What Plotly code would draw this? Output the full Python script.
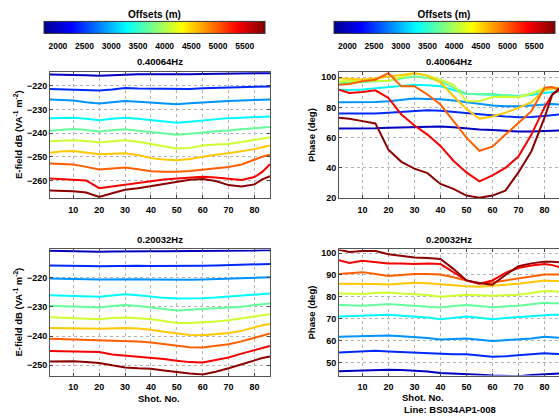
import plotly.graph_objects as go

# ---------------- data ----------------
shots = [1, 5, 10, 15, 20, 25, 30, 35, 40, 45, 50, 55, 60, 65, 70, 75, 80, 83, 86]
offsets = [2000, 2425, 2850, 3275, 3700, 4125, 4550, 4975, 5400, 5825]

# E-field amplitude, 0.40064 Hz (dB)
amp_hi = [
    [-215.3,-215.3,-215.4,-215.6,-215.8,-215.5,-215.3,-215.2,-215.2,-215.3,-215.4,-215.2,-215.1,-215.0,-215.0,-214.9,-214.8,-214.8,-214.7],
    [-221.4,-221.5,-221.6,-221.9,-222.0,-221.6,-221.0,-221.2,-221.3,-221.4,-221.6,-221.4,-221.1,-221.0,-220.9,-220.7,-220.5,-220.4,-220.3],
    [-225.8,-226.0,-226.3,-227.0,-227.5,-227.0,-226.5,-226.8,-227.2,-227.6,-227.8,-227.4,-227.0,-226.7,-226.5,-226.3,-226.0,-225.9,-225.8],
    [-233.7,-233.6,-233.5,-234.0,-234.6,-234.0,-233.5,-234.0,-234.6,-235.0,-235.6,-235.2,-234.6,-234.0,-233.7,-233.5,-233.3,-233.1,-233.0],
    [-239.0,-238.6,-238.3,-238.7,-239.3,-238.8,-238.4,-239.0,-239.5,-240.0,-240.7,-240.3,-239.6,-239.2,-238.9,-238.5,-238.0,-237.7,-237.4],
    [-243.5,-243.2,-243.0,-243.4,-244.0,-243.5,-243.0,-243.7,-244.6,-245.5,-246.5,-246.3,-245.3,-244.8,-244.6,-243.8,-242.8,-242.2,-241.8],
    [-248.3,-247.8,-247.6,-248.2,-249.0,-248.7,-248.5,-249.3,-250.6,-251.2,-251.5,-251.0,-250.0,-249.2,-248.5,-247.8,-246.8,-246.0,-245.3],
    [-252.9,-253.0,-253.3,-254.3,-255.4,-255.0,-254.6,-255.3,-256.1,-256.3,-256.4,-256.0,-255.4,-254.8,-254.3,-253.3,-251.3,-250.0,-249.2],
    [-259.2,-259.4,-259.6,-260.0,-263.3,-262.5,-261.7,-261.0,-260.1,-259.6,-259.2,-258.8,-258.5,-258.8,-259.4,-259.8,-258.6,-256.4,-253.2],
    [-264.3,-264.4,-264.6,-265.1,-267.0,-265.4,-264.0,-263.3,-262.4,-261.3,-260.3,-259.7,-259.4,-260.3,-262.0,-262.6,-261.7,-259.6,-258.2],
]

# Phase, 0.40064 Hz (deg)
phase_hi = [
    [66.1,66.0,66.0,66.2,66.5,66.8,67.0,67.2,67.3,66.8,66.0,65.3,65.0,64.5,64.0,64.0,64.3,64.6,64.8],
    [76.0,76.0,75.8,76.0,76.4,77.0,77.5,78.1,77.8,77.0,76.0,75.2,74.6,74.0,73.5,73.6,74.3,74.8,75.3],
    [83.4,83.3,83.2,83.5,84.0,85.0,85.8,85.6,85.4,84.5,83.4,82.0,81.3,80.8,80.8,81.3,82.0,82.3,81.9],
    [91.7,91.5,91.8,92.5,93.2,94.2,95.0,94.6,93.9,91.5,89.0,88.6,88.4,88.0,87.5,88.2,89.5,90.0,90.6],
    [96.0,96.3,96.8,97.2,97.6,99.0,100.4,99.5,97.2,93.0,88.9,88.7,88.9,88.0,87.3,88.8,91.7,92.3,92.8],
    [97.2,97.5,97.8,97.8,97.5,100.0,102.6,101.0,98.3,95.0,84.0,84.0,86.9,87.0,86.7,89.0,92.8,93.0,92.8],
    [99.3,98.8,98.5,99.3,100.4,101.5,102.6,101.0,96.5,87.5,79.0,72.5,74.0,76.5,79.7,83.5,91.5,92.5,92.8],
    [95.0,95.4,97.2,98.3,102.6,93.9,94.0,88.5,81.9,70.9,60.0,51.3,54.0,62.0,69.5,77.5,93.0,93.4,91.7],
    [91.7,89.5,90.2,91.3,86.2,75.3,68.0,62.0,54.5,44.7,37.0,31.1,35.0,40.0,47.5,62.0,80.0,88.5,91.7],
    [73.1,72.5,70.9,69.4,52.0,44.0,39.5,36.5,29.4,26.1,21.7,20.2,21.7,25.0,37.0,51.0,73.0,88.4,92.8],
]

# E-field amplitude, 0.20032 Hz (dB)
amp_lo = [
    [-210.8,-210.9,-211.0,-211.1,-211.1,-211.0,-210.9,-210.9,-210.9,-210.9,-210.9,-210.9,-210.9,-210.8,-210.8,-210.7,-210.7,-210.6,-210.6],
    [-215.8,-215.8,-215.9,-216.0,-216.1,-216.0,-215.9,-215.9,-216.0,-216.0,-216.1,-216.0,-215.9,-215.8,-215.7,-215.6,-215.5,-215.4,-215.3],
    [-220.3,-220.3,-220.4,-220.5,-220.6,-220.5,-220.4,-220.5,-220.6,-220.7,-220.7,-220.7,-220.6,-220.5,-220.4,-220.2,-220.0,-219.9,-219.8],
    [-226.0,-226.1,-226.2,-226.4,-226.5,-226.1,-225.7,-226.0,-226.5,-226.9,-227.1,-227.1,-227.0,-226.8,-226.5,-226.2,-225.8,-225.6,-225.4],
    [-229.6,-229.7,-229.7,-229.9,-230.2,-229.7,-229.3,-229.7,-230.2,-230.7,-231.2,-231.0,-230.7,-230.5,-230.3,-229.9,-229.3,-229.0,-228.8],
    [-233.5,-233.6,-233.7,-233.9,-234.2,-233.8,-233.6,-233.9,-234.2,-234.8,-235.5,-235.5,-235.3,-235.0,-234.6,-234.0,-233.2,-232.8,-232.5],
    [-237.2,-237.2,-237.3,-237.4,-237.5,-237.3,-237.2,-237.4,-237.8,-238.5,-239.1,-239.6,-239.7,-239.3,-238.9,-238.2,-236.9,-236.3,-235.8],
    [-240.9,-241.0,-241.1,-241.2,-241.3,-241.5,-241.7,-241.8,-242.2,-242.8,-243.4,-243.8,-243.9,-243.4,-242.8,-241.8,-240.6,-239.8,-239.1],
    [-245.1,-245.2,-245.2,-245.3,-245.4,-246.3,-246.7,-246.9,-247.3,-247.8,-248.4,-248.9,-249.0,-248.2,-247.3,-246.0,-244.7,-244.0,-243.4],
    [-248.7,-248.6,-248.6,-248.9,-249.2,-250.0,-250.7,-251.0,-251.2,-251.8,-252.4,-252.8,-253.1,-252.2,-251.0,-249.7,-248.2,-247.5,-247.0],
]

# Phase, 0.20032 Hz (deg)
phase_lo = [
    [46.0,46.2,46.4,46.6,46.7,46.5,46.3,45.8,45.2,45.0,44.8,44.4,44.0,43.8,43.7,44.2,44.7,44.9,45.0],
    [54.5,54.7,54.9,55.3,55.0,54.7,54.6,54.3,53.8,53.8,53.8,53.2,52.6,52.8,53.2,53.7,54.2,54.0,53.8],
    [61.7,61.9,62.0,62.2,62.3,62.0,61.7,61.2,60.5,60.8,61.0,60.4,59.8,60.2,60.5,61.0,61.7,61.5,61.3],
    [71.0,71.2,71.4,71.6,71.8,71.3,71.0,70.5,69.8,70.5,71.0,70.4,69.8,70.3,70.8,71.3,71.8,71.8,71.8],
    [76.3,76.1,75.9,76.3,76.7,76.3,75.9,75.5,75.1,75.8,76.3,75.8,75.2,75.6,75.9,76.6,77.3,77.1,77.0],
    [81.5,81.4,81.3,81.7,82.0,81.5,81.3,80.8,80.0,80.6,81.0,80.7,80.5,80.7,81.0,81.8,82.7,82.5,82.3],
    [86.0,86.0,86.1,85.9,85.7,86.0,86.4,86.2,85.7,85.2,84.8,84.6,85.2,85.5,86.0,86.8,87.5,87.3,87.2],
    [90.5,90.9,91.3,90.4,89.5,90.0,90.5,90.5,90.2,89.0,87.5,86.0,86.6,87.5,88.3,89.3,90.2,90.2,90.2],
    [96.8,95.5,96.5,95.9,95.3,95.2,95.0,95.2,95.0,91.3,87.5,86.0,87.5,91.0,93.2,94.3,95.0,94.5,93.5],
    [101.5,100.5,101.0,101.0,99.5,98.8,98.0,97.8,97.3,92.8,87.5,86.3,85.5,90.0,94.0,95.3,96.1,96.1,95.8],
]

x_ticks = [10, 20, 30, 40, 50, 60, 70, 80]
cbar_ticks = [2000, 2500, 3000, 3500, 4000, 4500, 5000, 5500]
freq_titles = ["0.40064Hz", "0.20032Hz"]

# ---------------- style ----------------
W, H = 559, 419
FONT = "Liberation Sans, Arial, Helvetica, sans-serif"
CMIN, CMAX = 1740, 5880
jet = [[0.0, "rgb(0,0,143)"], [0.125, "rgb(0,0,255)"], [0.375, "rgb(0,255,255)"],
       [0.625, "rgb(255,255,0)"], [0.875, "rgb(255,0,0)"], [1.0, "rgb(128,0,0)"]]


def jet_color(v):
    t = (v - CMIN) / (CMAX - CMIN)
    def c(a):
        return int(round(255 * max(0.0, min(1.0, a))))
    r = c(1.5 - abs(4 * t - 3))
    g = c(1.5 - abs(4 * t - 2))
    b = c(1.5 - abs(4 * t - 1))
    return f"rgb({r},{g},{b})"


def px_x(p):
    return p / W


def px_y(p):
    return 1 - p / H


fig = go.Figure()

panels = [
    (amp_hi, "x", "y"),
    (phase_hi, "x2", "y2"),
    (amp_lo, "x3", "y3"),
    (phase_lo, "x4", "y4"),
]
for data, xa, ya in panels:
    for off, vals in zip(offsets, data):
        fig.add_trace(go.Scatter(x=shots, y=vals, mode="lines", xaxis=xa, yaxis=ya,
                                 line=dict(color=jet_color(off), width=2),
                                 showlegend=False, hoverinfo="skip"))

# dummy traces carrying the two colour bars
for ca in ["coloraxis", "coloraxis2"]:
    fig.add_trace(go.Scatter(x=[None] * len(offsets), y=[None] * len(offsets), mode="markers",
                             marker=dict(color=offsets, coloraxis=ca), showlegend=False,
                             hoverinfo="skip"))

tickfont = dict(family=FONT, size=9, color="black", weight="bold")
axis_common = dict(ticks="inside", ticklen=3, tickcolor="#444", showline=True, linecolor="#555",
                   linewidth=1, showgrid=True, gridcolor="#b4b4b4", griddash="dot", gridwidth=1,
                   zeroline=False, tickfont=tickfont)

LX0, LX1 = 50, 270
RX0, RX1 = 339, 559
TY0, TY1 = 72, 200
BY0, BY1 = 252, 380

def xdom(a, b):
    return [px_x(a), px_x(b)]

def ydom(a, b):
    return [px_y(b), px_y(a)]

xextra = dict(ticklabelstandoff=3)
fig.update_layout(
    width=W, height=H, margin=dict(l=0, r=0, t=0, b=0),
    paper_bgcolor="white", plot_bgcolor="white",
    xaxis=dict(domain=xdom(LX0, LX1), range=[1, 86], tickvals=x_ticks, anchor="y", mirror="ticks", **xextra, **axis_common),
    yaxis=dict(domain=ydom(TY0, TY1), range=[-267.5, -214.2], tickvals=[-260, -250, -240, -230, -220],
               anchor="x", mirror="ticks", **axis_common),
    xaxis2=dict(domain=xdom(RX0, RX1), range=[1, 85.6], tickvals=x_ticks, anchor="y2", mirror="ticks", **xextra, **axis_common),
    yaxis2=dict(domain=ydom(TY0, TY1), range=[20, 103.4], tickvals=[20, 40, 60, 80, 100],
                anchor="x2", mirror=False, **axis_common),
    xaxis3=dict(domain=xdom(LX0, LX1), range=[1, 86], tickvals=x_ticks, anchor="y3", mirror="ticks", **xextra, **axis_common),
    yaxis3=dict(domain=ydom(BY0, BY1), range=[-253.5, -210.3], tickvals=[-250, -240, -230, -220],
                anchor="x3", mirror="ticks", **axis_common),
    xaxis4=dict(domain=xdom(RX0, RX1), range=[1, 85.6], tickvals=x_ticks, anchor="y4", mirror="ticks", **xextra, **axis_common),
    yaxis4=dict(domain=ydom(BY0, BY1), range=[44, 101.7], tickvals=[50, 60, 70, 80, 90, 100],
                anchor="x4", mirror=False, **axis_common),
)

def cbar(cx):
    return dict(
        orientation="h", x=px_x(cx), xanchor="center", y=px_y(30), yanchor="middle",
        len=221 / W, lenmode="fraction", thickness=12, thicknessmode="pixels",
        xpad=0, ypad=0, outlinecolor="#333", outlinewidth=1,
        tickvals=cbar_ticks, ticks="outside", ticklen=5, tickcolor="rgba(0,0,0,0)",
        tickfont=dict(family=FONT, size=8.5, color="black", weight="bold"),
        title=dict(text="Offsets (m)", side="top",
                   font=dict(family=FONT, size=10, color="black", weight="bold")),
    )

fig.update_layout(
    coloraxis=dict(colorscale=jet, cmin=CMIN, cmax=CMAX, colorbar=cbar(154.5)),
    coloraxis2=dict(colorscale=jet, cmin=CMIN, cmax=CMAX, colorbar=cbar(444)),
)

title_font = dict(family=FONT, size=9.5, color="black", weight="bold")
ann = []
# subplot titles
for cx, cy, txt in [((LX0 + LX1) / 2, 61, freq_titles[0]), ((RX0 + RX1) / 2, 61, freq_titles[0]),
                    ((LX0 + LX1) / 2, 242, freq_titles[1]), ((RX0 + RX1) / 2, 242, freq_titles[1])]:
    ann.append(dict(text=txt, x=px_x(cx), y=px_y(cy), xref="paper", yref="paper",
                    xanchor="center", yanchor="middle", showarrow=False, font=title_font))
# y-axis titles
efield = "E-field dB (VA<sup>-1</sup> m<sup>-2</sup>)"
for cx, cy, txt in [(18, 136, efield), (18, 316, efield), (311, 136, "Phase (deg)"), (311, 316, "Phase (deg)")]:
    ann.append(dict(text=txt, x=px_x(cx), y=px_y(cy), xref="paper", yref="paper", textangle=-90,
                    xanchor="center", yanchor="middle", showarrow=False, font=title_font))
# x-axis titles
ann.append(dict(text="Shot. No.", x=px_x(159), y=px_y(403), xref="paper", yref="paper",
                xanchor="center", yanchor="middle", showarrow=False, font=title_font))
ann.append(dict(text="Shot. No.", x=px_x(423), y=px_y(402), xref="paper", yref="paper",
                xanchor="center", yanchor="middle", showarrow=False, font=title_font))
ann.append(dict(text="Line: BS034AP1-008", x=px_x(450), y=px_y(414), xref="paper", yref="paper",
                xanchor="center", yanchor="middle", showarrow=False, font=title_font))
fig.update_layout(annotations=ann)

fig.write_html("out.html")
